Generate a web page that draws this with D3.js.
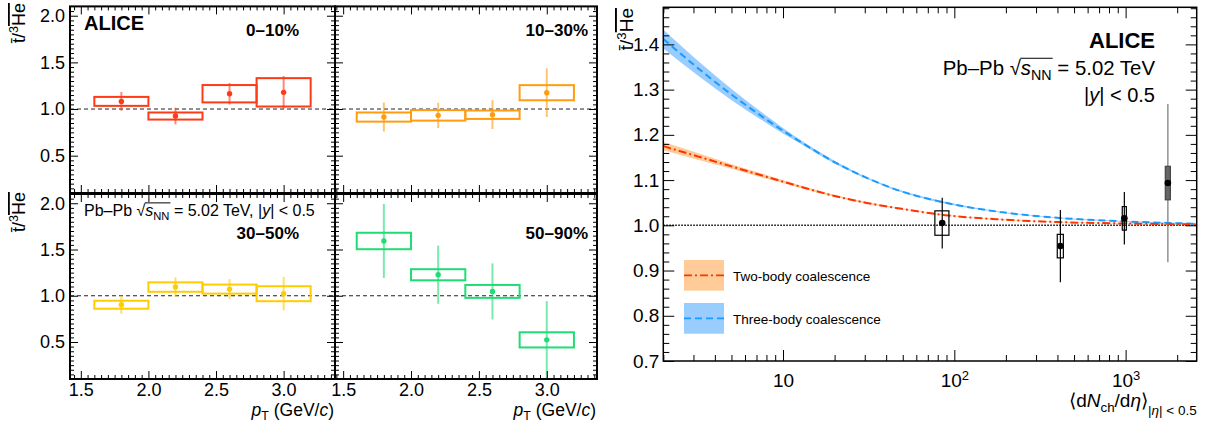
<!DOCTYPE html>
<html><head><meta charset="utf-8">
<script src="https://cdn.jsdelivr.net/npm/d3@7"></script>
<style>
body{margin:0;background:#fff}
svg{display:block}
text{font-family:"Liberation Sans",Arial,Helvetica,sans-serif;fill:#000}
</style>
</head><body>
<svg id="c" width="1211" height="426"></svg>
<script>
// ---------------- data ----------------
const ptCenters  = [1.8, 2.2, 2.6, 3.0];
const ptBinLow   = [1.6, 2.0, 2.4, 2.8];
const ptBinHigh  = [2.0, 2.4, 2.8, 3.2];
const centralities = ["0–10%", "10–30%", "30–50%", "50–90%"];
const centColors   = ["#ff3a17", "#ff9c0f", "#ffcc00", "#1fdc74"];

const ratio0010 = [1.082, 0.925, 1.164, 1.179];
const stat0010  = [0.100, 0.089, 0.116, 0.175];
const syst0010  = [0.048, 0.038, 0.093, 0.152];

const ratio1030 = [0.914, 0.932, 0.939, 1.175];
const stat1030  = [0.156, 0.134, 0.154, 0.261];
const syst1030  = [0.049, 0.056, 0.045, 0.081];

const ratio3050 = [0.903, 1.094, 1.072, 1.022];
const stat3050  = [0.098, 0.105, 0.109, 0.181];
const syst3050  = [0.043, 0.051, 0.049, 0.081];

const ratio5090 = [1.592, 1.227, 1.047, 0.523];
const stat5090  = [0.400, 0.314, 0.303, 0.419];
const syst5090  = [0.089, 0.060, 0.070, 0.082];

const ptTickMajor = [1.5, 2.0, 2.5, 3.0];
const ratioTickMajor = [0.5, 1.0, 1.5, 2.0];

// integrated vs multiplicity
const dNchdEta    = [85, 416, 983, 1765];
const dNchdEtaErr = [8, 17, 27, 60];
const ratioInt    = [1.005, 0.954, 1.0154, 1.0934];
const statInt     = [0.056, 0.080, 0.058, 0.175];
const systInt     = [0.027, 0.026, 0.026, 0.037];

// coalescence model curves
const modelMult    = [2, 3.27, 5.13, 8.03, 10, 12.6, 19.7, 30.8, 48.2, 86, 185, 414, 1000, 2600];
const threeBody    = [1.412, 1.344, 1.286, 1.2335, 1.209, 1.185, 1.141, 1.105, 1.076, 1.051, 1.0295, 1.0162, 1.0085, 1.0035];
const threeBodyErr = [0.021, 0.016, 0.012, 0.008, 0.006, 0.004, 0.003, 0.002, 0.002, 0.002, 0.001, 0.001, 0.001, 0.001];
const twoBody      = [1.175, 1.151, 1.129, 1.107, 1.0965, 1.0855, 1.0655, 1.0495, 1.037, 1.023, 1.013, 1.007, 1.004, 1.002];
const twoBodyErr   = [0.009, 0.007, 0.005, 0.004, 0.003, 0.003, 0.002, 0.002, 0.001, 0.001, 0.001, 0.001, 0.001, 0.001];
const legendLabels = ["Two-body coalescence", "Three-body coalescence"];
const rightYTicks  = [0.7, 0.8, 0.9, 1.0, 1.1, 1.2, 1.3, 1.4];
const rightXTicks  = [10, 100, 1000];

// ---------------- drawing ----------------
const svg = d3.select("#c");
svg.append("rect").attr("width",1211).attr("height",426).attr("fill","#fff");
const FONT = '"Liberation Sans",Arial,Helvetica,sans-serif';

function styleAxis(sel, fs){
  sel.select(".domain").remove();
  sel.attr("font-family", FONT).attr("font-size", fs);
  sel.selectAll("line").attr("stroke","#000").attr("stroke-width",1);
  sel.selectAll("text").attr("fill","#000");
}

function drawFrame(g, xs, ys, o){
  const [x0,x1] = xs.range(); const [y1,y0] = ys.range();
  const mk = (axisFn, scale, vals, len, fmt, pad, tr) => {
    const a = axisFn(scale).tickValues(vals).tickSize(-len).tickPadding(pad).tickFormat(fmt || (()=> ""));
    const s = g.append("g").attr("transform", tr).call(a);
    styleAxis(s, o.fs);
    return s;
  };
  const bx = mk(d3.axisBottom, xs, o.xMajor, o.maj, o.xLabels ? o.xFmt : null, o.xPad, `translate(0,${y1})`);
  mk(d3.axisBottom, xs, o.xMinor, o.min, null, 0, `translate(0,${y1})`);
  mk(d3.axisTop, xs, o.xMajor, o.maj, null, 0, `translate(0,${y0})`);
  mk(d3.axisTop, xs, o.xMinor, o.min, null, 0, `translate(0,${y0})`);
  const ly = mk(d3.axisLeft, ys, o.yMajor, o.maj, o.yLabels ? o.yFmt : null, o.yPad, `translate(${x0},0)`);
  mk(d3.axisLeft, ys, o.yMinor, o.min, null, 0, `translate(${x0},0)`);
  mk(d3.axisRight, ys, o.yMajor, o.maj, null, 0, `translate(${x1},0)`);
  mk(d3.axisRight, ys, o.yMinor, o.min, null, 0, `translate(${x1},0)`);
  g.append("rect").attr("x",x0).attr("y",y0).attr("width",x1-x0).attr("height",y1-y0)
    .attr("fill","none").attr("stroke","#000").attr("stroke-width",o.fw);
  return {bx, ly};
}

function yTitle(g, x, yTop, fs){
  const t = g.append("text").attr("transform",`translate(${x},${yTop}) rotate(-90)`)
    .attr("text-anchor","end").attr("font-size",fs);
  t.append("tspan").text("t\u0304/");
  t.append("tspan").attr("font-size",fs*0.7).attr("dy",-fs*0.38).text("3");
  t.append("tspan").attr("dy",fs*0.38).attr("text-decoration","overline").text("He");
}

function sqrtText(x, y, fs, anchor, tailParts){
  const t = svg.append("text").attr("x",x).attr("y",y).attr("font-size",fs).attr("text-anchor",anchor);
  t.append("tspan").text("Pb–Pb \u221A");
  t.append("tspan").attr("font-style","italic").text("s");
  t.append("tspan").attr("font-size",fs*0.7).attr("dy",fs*0.25).text("NN");
  t.append("tspan").attr("dy",-fs*0.25).text(" = 5.02 TeV" + (tailParts ? ", |" : ""));
  if (tailParts){
    t.append("tspan").attr("font-style","italic").text("y");
    t.append("tspan").text("| < 0.5");
  }
  const n=t.node(), full=n.textContent;
  const si=full.indexOf("\u221A"), e=full.indexOf("NN")+1;
  const p0=n.getEndPositionOfChar(si), p1=n.getEndPositionOfChar(e);
  svg.append("line").attr("x1",p0.x-0.5).attr("x2",p1.x+1).attr("y1",y-fs*0.82).attr("y2",y-fs*0.82)
    .attr("stroke","#000").attr("stroke-width",1);
}

// ---------- left: 4 pads ----------
const ratioSets = [ratio0010, ratio1030, ratio3050, ratio5090];
const statSets  = [stat0010, stat1030, stat3050, stat5090];
const systSets  = [syst0010, syst1030, syst3050, syst5090];
const pads = [
  {x0:70,  x1:335, y0:6.4, y1:193, xd:[1.42,3.38],  xl:false, yl:true},
  {x0:335, x1:597, y0:6.4, y1:193, xd:[1.44,3.37],  xl:false, yl:false},
  {x0:70,  x1:335, y0:194, y1:379, xd:[1.42,3.38],  xl:true,  yl:true},
  {x0:335, x1:597, y0:194, y1:379, xd:[1.44,3.37],  xl:true,  yl:false}
];
const ptMinor = d3.range(1.45, 3.40, 0.05).map(v=>+v.toFixed(2)).filter(v=>Math.abs(v*2-Math.round(v*2))>1e-6);
const rMinor  = d3.range(0.15, 2.1, 0.05).map(v=>+v.toFixed(2)).filter(v=>Math.abs(v*2-Math.round(v*2))>1e-6);

pads.forEach((p,i)=>{
  const g = svg.append("g");
  const xs = d3.scaleLinear().domain(p.xd).range([p.x0,p.x1]);
  const ys = d3.scaleLinear().domain([0.1,2.1]).range([p.y1,p.y0]);
  const cid = "clip"+i;
  svg.append("clipPath").attr("id",cid).append("rect").attr("x",p.x0).attr("y",p.y0).attr("width",p.x1-p.x0).attr("height",p.y1-p.y0);
  g.append("line").attr("x1",p.x0).attr("x2",p.x1).attr("y1",ys(1)).attr("y2",ys(1))
    .attr("stroke","#222").attr("stroke-width",1).attr("stroke-dasharray","4,3");
  const col = centColors[i];
  const vals = ratioSets[i], st = statSets[i], sy = systSets[i];
  const dg = g.append("g").attr("clip-path",`url(#${cid})`);
  dg.selectAll(".sys").data(vals).join("rect")
    .attr("x",(d,k)=>xs(ptBinLow[k])).attr("width",(d,k)=>xs(ptBinHigh[k])-xs(ptBinLow[k]))
    .attr("y",(d,k)=>ys(d+sy[k])).attr("height",(d,k)=>ys(d-sy[k])-ys(d+sy[k]))
    .attr("fill","none").attr("stroke",col).attr("stroke-width",2);
  dg.selectAll(".st").data(vals).join("line")
    .attr("x1",(d,k)=>xs(ptCenters[k])).attr("x2",(d,k)=>xs(ptCenters[k]))
    .attr("y1",(d,k)=>ys(d+st[k])).attr("y2",(d,k)=>ys(d-st[k]))
    .attr("stroke",col).attr("stroke-width",2).attr("stroke-opacity",0.6);
  dg.selectAll(".pt").data(vals).join("circle")
    .attr("cx",(d,k)=>xs(ptCenters[k])).attr("cy",d=>ys(d)).attr("r",2.7).attr("fill",col);
  drawFrame(g, xs, ys, {
    xMajor: ptTickMajor, xMinor: ptMinor, yMajor: ratioTickMajor, yMinor: rMinor,
    maj:8, min:4, fs:18, fw:2,
    xLabels:p.xl, xFmt:d3.format(".1f"), xPad:4,
    yLabels:p.yl, yFmt:d3.format(".1f"), yPad:5
  });
  g.append("text").attr("x", i%2===0 ? 299 : 588).attr("y", i<2 ? 36 : 239)
    .attr("text-anchor","end").attr("font-weight","bold").attr("font-size",17).text(centralities[i]);
  if (p.xl){
    const t = g.append("text").attr("x",p.x1-1).attr("y",416).attr("text-anchor","end").attr("font-size",17.5);
    t.append("tspan").attr("font-style","italic").text("p");
    t.append("tspan").attr("font-size",12.3).attr("dy",4).text("T");
    t.append("tspan").attr("dy",-4).text(" (GeV/");
    t.append("tspan").attr("font-style","italic").text("c");
    t.append("tspan").text(")");
  }
});
yTitle(svg, 25, 3, 18);
yTitle(svg, 25, 192, 18);
svg.append("text").attr("x",84).attr("y",30).attr("font-weight","bold").attr("font-size",20).text("ALICE");
sqrtText(84, 216, 16, "start", true);

// ---------- right panel ----------
{
  const R = {x0:663.3, x1:1196.7, y0:7.3, y1:361};
  const g = svg.append("g");
  const xs = d3.scaleLog().domain([2,2600]).range([R.x0,R.x1]);
  const ys = d3.scaleLinear().domain([0.7,1.482]).range([R.y1,R.y0]);
  svg.append("clipPath").attr("id","clipR").append("rect").attr("x",R.x0).attr("y",R.y0).attr("width",R.x1-R.x0).attr("height",R.y1-R.y0);
  const cg = g.append("g").attr("clip-path","url(#clipR)");
  const pts3 = modelMult.map((m,k)=>({m, v:threeBody[k], e:threeBodyErr[k]}));
  const pts2 = modelMult.map((m,k)=>({m, v:twoBody[k], e:twoBodyErr[k]}));
  const area = d3.area().x(d=>xs(d.m)).y0(d=>ys(d.v-d.e)).y1(d=>ys(d.v+d.e)).curve(d3.curveMonotoneX);
  const line = d3.line().x(d=>xs(d.m)).y(d=>ys(d.v)).curve(d3.curveMonotoneX);
  cg.append("path").datum(pts3).attr("d",area).attr("fill","#99ccff");
  cg.append("path").datum(pts2).attr("d",area).attr("fill","#ffcc99");
  cg.append("line").attr("x1",R.x0).attr("x2",R.x1).attr("y1",ys(1)).attr("y2",ys(1))
    .attr("stroke","#000").attr("stroke-width",1.6).attr("stroke-dasharray","1.5,1.5");
  cg.append("path").datum(pts3).attr("d",line).attr("fill","none").attr("stroke","#1a9cff").attr("stroke-width",2).attr("stroke-dasharray","7,4");
  cg.append("path").datum(pts2).attr("d",line).attr("fill","none").attr("stroke","#ff3300").attr("stroke-width",2).attr("stroke-dasharray","8,3,2,3");

  const dd = dNchdEta.map((m,k)=>({m, e:dNchdEtaErr[k], v:ratioInt[k], st:statInt[k], sy:systInt[k], last:k===dNchdEta.length-1}));
  cg.selectAll(".st").data(dd).join("line")
    .attr("x1",d=>xs(d.m)).attr("x2",d=>xs(d.m)).attr("y1",d=>ys(d.v+d.st)).attr("y2",d=>ys(d.v-d.st))
    .attr("stroke",d=>d.last?"#777":"#000").attr("stroke-width",1.2);
  cg.selectAll(".sy").data(dd).join("rect")
    .attr("x",d=>xs(d.m-d.e)).attr("width",d=>xs(d.m+d.e)-xs(d.m-d.e))
    .attr("y",d=>ys(d.v+d.sy)).attr("height",d=>ys(d.v-d.sy)-ys(d.v+d.sy))
    .attr("fill",d=>d.last?"#666":"none").attr("stroke",d=>d.last?"#444":"#000").attr("stroke-width",1.2);
  cg.selectAll(".pt").data(dd).join("circle")
    .attr("cx",d=>xs(d.m)).attr("cy",d=>ys(d.v)).attr("r",3.3).attr("fill","#000");

  const xMinor=[];
  [1,10,100,1000].forEach(dec=>{for(let k=2;k<=9;k++){const v=k*dec; if(v>=2&&v<=2600) xMinor.push(v);}});
  const yMinor = d3.range(0.72,1.482,0.02).map(v=>+v.toFixed(2)).filter(v=>Math.abs(v*10-Math.round(v*10))>1e-6);
  const ax = drawFrame(g, xs, ys, {
    xMajor: rightXTicks, xMinor, yMajor: rightYTicks, yMinor,
    maj:11, min:6, fs:19, fw:1.5,
    xLabels:true, xFmt:d=>String(d), xPad:13,
    yLabels:true, yFmt:d3.format(".1f"), yPad:4
  });
  ax.bx.selectAll(".tick text").each(function(d){
    const t=d3.select(this); const ex=Math.round(Math.log10(d));
    if(ex>=2){ t.text("10"); t.append("tspan").attr("font-size",13).attr("dy","-0.55em").text(String(ex)); }
  });
  const lg = [{c:"#ffcc99", l:"#ff3300", dash:"8,3,2,3", y0:260}, {c:"#99ccff", l:"#1a9cff", dash:"7,4", y0:303}];
  lg.forEach((L,k)=>{
    g.append("rect").attr("x",684).attr("y",L.y0).attr("width",40).attr("height",30.7).attr("fill",L.c);
    g.append("line").attr("x1",684).attr("x2",724).attr("y1",L.y0+15.4).attr("y2",L.y0+15.4)
      .attr("stroke",L.l).attr("stroke-width",1.6).attr("stroke-dasharray",L.dash);
    g.append("text").attr("x",733).attr("y",L.y0+20.5).attr("font-size",13.5).attr("fill","#222").text(legendLabels[k]);
  });
  svg.append("text").attr("x",1155).attr("y",48).attr("text-anchor","end").attr("font-weight","bold").attr("font-size",22).text("ALICE");
  sqrtText(1155, 75, 20.4, "end", false);
  {
    const t = svg.append("text").attr("x",1155).attr("y",102).attr("text-anchor","end").attr("font-size",20);
    t.append("tspan").text("|");
    t.append("tspan").attr("font-style","italic").text("y");
    t.append("tspan").text("| < 0.5");
  }
  yTitle(svg, 633, 8, 19);
  {
    const t = svg.append("text").attr("x",1196.7).attr("y",407).attr("text-anchor","end").attr("font-size",19);
    t.append("tspan").text("\u27E8d");
    t.append("tspan").attr("font-style","italic").text("N");
    t.append("tspan").attr("font-size",13.3).attr("dy",5).text("ch");
    t.append("tspan").attr("dy",-5).text("/d");
    t.append("tspan").attr("font-style","italic").text("\u03B7");
    t.append("tspan").text("\u27E9");
    t.append("tspan").attr("font-size",13.5).attr("dy",8).text("|");
    t.append("tspan").attr("font-size",13.5).attr("font-style","italic").text("\u03B7");
    t.append("tspan").attr("font-size",13.5).text("| < 0.5");
  }
}
</script>
</body></html>
